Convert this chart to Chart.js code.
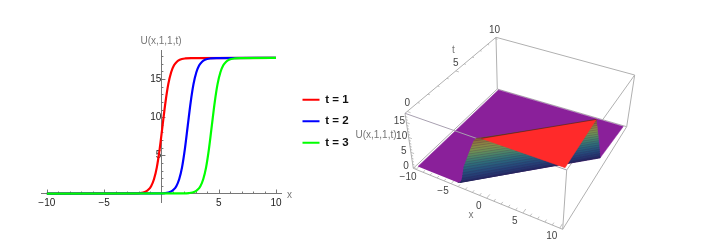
<!DOCTYPE html>
<html><head><meta charset="utf-8">
<script src="https://cdn.jsdelivr.net/npm/chart.js@4"></script>
<style>html,body{margin:0;padding:0;background:#fff;width:718px;height:250px;overflow:hidden}
#w1{position:absolute;left:0;top:0;width:360px;height:250px;filter:blur(0.3px)}
#w2{position:absolute;left:340px;top:0;width:378px;height:250px;filter:blur(0.3px)}</style>
</head><body>
<div id="w1"><canvas id="c1"></canvas></div>
<div id="w2"><canvas id="c2"></canvas></div>
<script>
// ---- left plot: U(x,1,1,t) against x ----
const curveU = [0,0.014,0.058,0.24,0.49,0.96,1.87,3.43,5.84,8.88,11.91,14.32,15.88,16.79,17.26,17.51,17.69,17.74,17.75];
const xRed   = [-10,-2.4,-1.9,-1.4,-1.15,-0.9,-0.65,-0.4,-0.15,0.1,0.35,0.6,0.85,1.1,1.35,1.6,2.1,2.6,10];
const xBlue  = [-10,-0.2,0.3,0.8,1.05,1.3,1.55,1.8,2.05,2.3,2.55,2.8,3.05,3.3,3.55,3.8,4.3,4.8,10];
const xGreen = [-10,1.9,2.4,2.9,3.15,3.4,3.65,3.9,4.15,4.4,4.65,4.9,5.15,5.4,5.65,5.9,6.4,6.9,10];
const seriesNames = ['t = 1','t = 2','t = 3'];
const seriesColors = ['#ff0000','#0000ff','#00ff00'];
const xTickLabels = [-10,-5,5,10];
const yTickLabels = [5,10,15];

// ---- right plot: surface read in (x, t, U) ----
const boxX = [-10.4,10.4], boxT = [-0.2,10.2], boxU = [-0.36,18.1];
const wallU    = [0,0.3,1,2,3,4,5,6,7,8,9,10,11,12,13,14,15,16,17,17.75];
const wallXAt0 = [-4.3,-4,-3.8,-3.65,-3.55,-3.47,-3.38,-3.3,-3.14,-2.98,-2.82,-2.66,-2.5,-2.34,-2.18,-2.02,-1.86,-1.7,-1.4,-0.65];
const wallTEnd = [6.2,6.17,6.11,6.03,5.94,5.85,5.76,5.68,5.59,5.5,5.41,5.33,5.24,5.15,5.06,4.98,4.89,4.8,4.72,4.65];
const wallEndX = 9.6;
const wallColors = ['#25215c','#262a66','#26346e','#263e75','#27497a','#28547c','#2b5f7c','#2f6a7a','#367376','#417c70','#4e8469','#5d8a60','#6d8e57','#7c8e4f','#878a49','#8c8044','#8d7340','#8a653a','#805533'];
const purple = '#8a209a', redTop = '#ff2a2a', boxColor = '#b0b0b0';
const xTicks3D = [-10,-5,0,5,10], tTicks3D = [0,5,10], uTicks3D = [0,5,10,15];

// ---- view of the 3D box: where its corners fall in the picture ----
const corner = {
  xlo:{tlo:{ulo:[413.3,168.3],uhi:[405,113.3]},thi:{ulo:[497.3,89],uhi:[496,37.3]}},
  xhi:{tlo:{ulo:[562.7,229.3],uhi:[566.7,170]},thi:{ulo:[626.7,126.7],uhi:[634.7,75]}}
};
const warp = (s,a)=>a*s/(1+(a-1)*s);
function project(x,t,u){
  const a = warp((x-boxX[0])/(boxX[1]-boxX[0]),0.965);
  const b = warp((t-boxT[0])/(boxT[1]-boxT[0]),1.26);
  const c = (u-boxU[0])/(boxU[1]-boxU[0]);
  const out = {};
  [['x',0],['y',1]].forEach(([k,i])=>{
    const v=(X,T,U)=>corner[X][T][U][i];
    const lo=(1-b)*((1-a)*v('xlo','tlo','ulo')+a*v('xhi','tlo','ulo'))+b*((1-a)*v('xlo','thi','ulo')+a*v('xhi','thi','ulo'));
    const hi=(1-b)*((1-a)*v('xlo','tlo','uhi')+a*v('xhi','tlo','uhi'))+b*((1-a)*v('xlo','thi','uhi')+a*v('xhi','thi','uhi'));
    out[k]=(1-c)*lo+c*hi;
  });
  return out;
}

// ---- left chart ----
const FONT = '"Liberation Sans", Arial, sans-serif';
const fmt = v => (v<0?'\u2212':'')+Math.abs(v);
const leftPlugin = {
  id:'left',
  afterLayout(chart){
    const l = chart.legend;
    const w = l.width, h = l.height;
    l.left = 292.5; l.top = 84; l.right = l.left+w; l.bottom = l.top+h;
  },
  beforeDatasetsDraw(chart){
    const {ctx,scales:{x,y}} = chart;
    const x0 = x.getPixelForValue(0), y0 = y.getPixelForValue(0);
    ctx.save(); ctx.strokeStyle='#777'; ctx.lineWidth=1;
    ctx.beginPath();
    for(let v=-10;v<=10;v++){ if(!v) continue;
      const p=Math.round(x.getPixelForValue(v))+.5, len=v%5?2:4;
      ctx.moveTo(p,y0); ctx.lineTo(p,y0-len);
    }
    for(let v=1;v<=18;v++){
      const p=Math.round(y.getPixelForValue(v))+.5, len=v%5?2:4;
      ctx.moveTo(x0,p); ctx.lineTo(x0+len,p);
    }
    ctx.stroke(); ctx.restore();
  },
  afterDraw(chart){
    const {ctx}=chart; ctx.save();
    ctx.font='10px '+FONT; ctx.fillStyle='#777'; ctx.textAlign='center'; ctx.textBaseline='middle';
    ctx.fillText('U(x,1,1,t)',161,41);
    ctx.fillText('x',289.5,195.5);
    ctx.restore();
  }
};
const xyOf = xs => xs.map((x,i)=>({x,y:curveU[i]}));
new Chart(document.getElementById('c1'),{
  type:'line',
  data:{datasets:[xRed,xBlue,xGreen].map((xs,i)=>({
    label:seriesNames[i],data:xyOf(xs),borderColor:seriesColors[i],backgroundColor:seriesColors[i],
    borderWidth:2.2,pointRadius:0,cubicInterpolationMode:'monotone',fill:false,clip:false,order:3-i}))},
  plugins:[leftPlugin],
  options:{
    responsive:true,maintainAspectRatio:false,animation:false,
    layout:{padding:{left:41.7,right:78.3,top:50.7,bottom:47.3}},
    plugins:{tooltip:{enabled:false},
      legend:{position:'chartArea',align:'start',
        labels:{boxWidth:17,boxHeight:2,padding:10,color:'#111',font:{family:FONT,size:11.5,weight:'bold'},
          sort:(a,b)=>a.datasetIndex-b.datasetIndex,
          generateLabels:c=>c.data.datasets.map((d,i)=>({text:d.label,fillStyle:d.borderColor,strokeStyle:d.borderColor,lineWidth:0,datasetIndex:i,fontColor:'#111'}))}}},
    scales:{
      x:{type:'linear',min:-10.45,max:10.5,position:{y:0},
        grid:{display:false,drawTicks:false},border:{color:'#777',width:1},
        afterBuildTicks:s=>{s.ticks=xTickLabels.map(value=>({value}));},
        ticks:{autoSkip:false,maxRotation:0,padding:4,color:'#222',font:{family:FONT,size:10},callback:fmt}},
      y:{type:'linear',min:-1.2,max:18.7,position:{x:0},
        grid:{display:false,drawTicks:false},border:{color:'#777',width:1},
        afterBuildTicks:s=>{s.ticks=yTickLabels.map(value=>({value}));},
        ticks:{autoSkip:false,padding:4.5,color:'#222',font:{family:FONT,size:10},callback:fmt}}
    }
  }
});

// ---- right chart ----
const ds3 = [];
const poly = (pts,color)=>ds3.push({data:pts.map(p=>project(...p)),showLine:true,fill:'shape',
  backgroundColor:color,borderColor:color,borderWidth:0.5,pointRadius:0,clip:false,order:-ds3.length});
const seg = (a,b,color,w)=>ds3.push({data:[project(...a),project(...b)],showLine:true,fill:false,
  borderColor:color,borderWidth:w||1,pointRadius:0,clip:false,order:-ds3.length});
const [X0,X1]=boxX,[T0,T1]=boxT,[U0,U1]=boxU;
// back and side edges of the box
[[[X0,T0,U1],[X0,T1,U1]],[[X0,T1,U1],[X1,T1,U1]],[[X1,T1,U1],[X1,T0,U1]],
 [[X0,T1,U0],[X0,T1,U1]],[[X1,T1,U0],[X1,T1,U1]],[[X0,T0,U0],[X0,T0,U1]],[[X1,T0,U0],[X1,T0,U1]],
 [[X0,T0,U0],[X1,T0,U0]],[[X1,T0,U0],[X1,T1,U0]],[[X0,T0,U0],[X0,T1,U0]],[[X0,T1,U0],[X1,T1,U0]]].forEach(e=>seg(e[0],e[1],boxColor));
// box ticks
for(let v=-10;v<=10;v++) seg([v,T0,U0],[v,T0+(v%5?0.2:0.35),U0],boxColor,0.8);
for(let v=0;v<=10;v++) seg([X0,v,U1],[X0+(v%5?0.25:0.45),v,U1],boxColor,0.8);
for(let v=0;v<=17;v++) seg([X0,T0,v],[X0+(v%5?0.25:0.45),T0,v],boxColor,0.8);
// low sheet
poly([[-10,0,0],[-10,10,0],[10,10,0],[wallEndX,wallTEnd[0],0],[wallXAt0[0],0,0]],purple);
// front upper edge of the box crosses over the sheet
seg([X0,T0,U1],[X1,T0,U1],'#a8a0b0');
// steep front, one band per colour
wallColors.forEach((c,i)=>{
  poly([[wallXAt0[i],0,wallU[i]],[wallEndX,wallTEnd[i],wallU[i]],[wallEndX,wallTEnd[i+1],wallU[i+1]],[wallXAt0[i+1],0,wallU[i+1]]],c);
  seg([wallXAt0[i],0,wallU[i]],[wallEndX,wallTEnd[i],wallU[i]],'rgba(10,20,40,0.25)',0.6);
});
// high plateau
const nTop = wallU.length-1, uTop = wallU[nTop];
poly([[wallXAt0[nTop],0,uTop],[10,0,uTop],[wallEndX,wallTEnd[nTop],uTop]],redTop);
seg([wallXAt0[nTop],0,uTop],[wallEndX,wallTEnd[nTop],uTop],'rgba(60,20,20,0.6)',0.8);

const rightPlugin = {
  id:'right',
  afterDraw(chart){
    const {ctx}=chart, ox=340;
    ctx.save(); ctx.font='10px '+FONT; ctx.textAlign='center'; ctx.textBaseline='middle';
    const sx=chart.scales.x, sy=chart.scales.y;
    const put=(p,dx,dy,s)=>ctx.fillText(s,sx.getPixelForValue(p.x)+dx,sy.getPixelForValue(p.y)+dy);
    ctx.fillStyle='#444';
    xTicks3D.forEach(v=>put(project(v,T0,U0),-8,8,fmt(v)));
    tTicks3D.forEach(v=>put(project(X0,v,U1),0,-8,fmt(v)));
    uTicks3D.forEach(v=>put(project(X0,T0,v),-7,-1,fmt(v)));
    ctx.fillStyle='#777';
    ctx.fillText('x',471-ox,215.7);
    ctx.fillText('t',453.3-ox,50.7);
    ctx.fillText('U(x,1,1,t)',376-ox,135.7);
    ctx.restore();
  }
};
new Chart(document.getElementById('c2'),{
  type:'scatter',
  data:{datasets:ds3},
  plugins:[rightPlugin],
  options:{
    responsive:true,maintainAspectRatio:false,animation:false,
    layout:{padding:0},
    plugins:{legend:{display:false},tooltip:{enabled:false}},
    scales:{x:{type:'linear',min:340,max:718,display:false},
            y:{type:'linear',min:0,max:250,reverse:true,display:false}}
  }
});
</script>
</body></html>
